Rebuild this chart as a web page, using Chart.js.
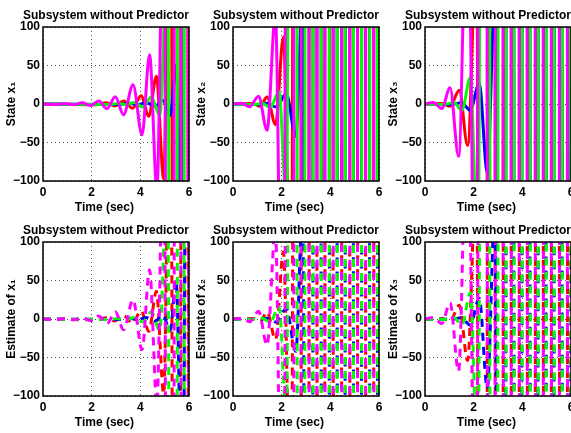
<!DOCTYPE html>
<html><head><meta charset="utf-8">
<script src="https://cdn.jsdelivr.net/npm/chart.js@4"></script>
<style>
html,body{margin:0;padding:0;background:#fff;overflow:hidden;width:571px;height:433px;position:relative;}
canvas{position:absolute;}
</style></head><body>
<script>
// ---- tick labels / text ----
const timeTicks = [0, 2, 4, 6];
const valueTicks = [-100, -50, 0, 50, 100];
const panelTitle = 'Subsystem without Predictor';
const xLabel = 'Time (sec)';
const yLabels = ['State x\u2081', 'State x\u2082', 'State x\u2083', 'Estimate of x\u2081', 'Estimate of x\u2082', 'Estimate of x\u2083'];

// ---- subsystem x1 (time s, value) ----
const x1MagentaT = [0, 0.5, 0.9, 1.25, 1.6, 1.95, 2.29, 2.63, 2.97, 3.31, 3.70, 4.07, 4.38, 4.68, 4.97, 5.25, 5.53, 5.81, 6.09];
const x1MagentaV = [0, -0.8, 0.8, -1, 1.5, -2, 4, -6, 9.5, -14, 25, -40, 64, -110, 300, -3000, 3000, -3000, 3000];
const x1RedT = [0, 2.2, 2.6, 2.95, 3.32, 3.68, 4.03, 4.35, 4.66, 4.96, 5.24, 5.52, 5.80, 6.08];
const x1RedV = [0, -1, 1.5, -2.5, 4, -5.6, 10.8, -16, 36, -97, 400, -3000, 3000, -3000];
const x1GreenT = [0, 2.8, 3.05, 3.4, 3.75, 4.1, 4.45, 4.8, 5.12, 5.38, 5.66, 5.94, 6.22];
const x1GreenV = [0, -0.5, 0.8, -1, 2, -4, 9, -15, 200, -3000, 3000, -3000, 3000];
const x1BlueT = [0, 3.2, 3.55, 3.9, 4.25, 4.6, 4.92, 5.23, 5.47, 5.75, 6.03];
const x1BlueV = [0, -0.5, 1, -1, 2, -3, 5, -15, 50, -300, 3000];

// ---- subsystem x2 ----
const x2MagentaT = [0, 0.35, 0.68, 1.05, 1.40, 1.74, 2.07, 2.36, 2.64, 2.96, 3.29, 3.61, 3.94, 4.29, 4.64, 4.96, 5.28, 5.62, 5.95, 6.28];
const x2MagentaV = [0, 1, -3.7, 10, -34, 115, -500, 3000, -3000, 3000, -3000, 3000, -3000, 3000, -3000, 3000, -3000, 3000, -3000, 3000];
const x2RedT = [0, 0.8, 1.12, 1.40, 1.75, 2.07, 2.40, 2.64, 2.96, 3.29, 3.61, 3.94, 4.29, 4.64, 4.96, 5.28, 5.62, 5.95, 6.28];
const x2RedV = [0, 0.5, -3, 9, -27, 87, -300, 3000, -3000, 3000, -3000, 3000, -3000, 3000, -3000, 3000, -3000, 3000, -3000];
const x2GreenT = [0, 0.9, 1.2, 1.53, 1.89, 2.20, 2.48, 2.79, 3.12, 3.45, 3.80, 4.12, 4.44, 4.78, 5.12, 5.45, 5.78, 6.10, 6.42];
const x2GreenV = [0, -0.5, 1, -4.5, 16, -130, 3000, -3000, 3000, -3000, 3000, -3000, 3000, -3000, 3000, -3000, 3000, -3000, 3000];
const x2BlueT = [0, 1.1, 1.4, 1.78, 2.19, 2.58, 2.87, 3.12, 3.45, 3.80, 4.12, 4.44, 4.78, 5.12, 5.45, 5.78, 6.10, 6.42];
const x2BlueV = [0, -0.5, 1, -4, 13.6, -42, 150, -3000, 3000, -3000, 3000, -3000, 3000, -3000, 3000, -3000, 3000, -3000];

// ---- subsystem x3 ----
const x3MagentaT = [0, 0.34, 0.69, 1.03, 1.38, 1.75, 2.10, 2.40, 2.72, 3.05, 3.38, 3.71, 4.04, 4.37, 4.70, 5.03, 5.36, 5.69, 6.02, 6.35];
const x3MagentaV = [0, 2, -6, 21, -68, 300, -400, 3000, -3000, 3000, -3000, 3000, -3000, 3000, -3000, 3000, -3000, 3000, -3000, 3000];
const x3RedT = [0, 0.7, 1.03, 1.41, 1.75, 2.12, 2.40, 2.72, 3.05, 3.38, 3.71, 4.04, 4.37, 4.70, 5.03, 5.36, 5.69, 6.02, 6.35];
const x3RedV = [0, 0.5, -3, 18, -54, 200, -3000, 3000, -3000, 3000, -3000, 3000, -3000, 3000, -3000, 3000, -3000, 3000, -3000];
const x3GreenT = [0, 0.8, 1.18, 1.52, 1.86, 2.18, 2.50, 2.83, 3.16, 3.49, 3.82, 4.15, 4.48, 4.81, 5.14, 5.47, 5.80, 6.13];
const x3GreenV = [0, -0.5, 2, -8, 34, -200, 3000, -3000, 3000, -3000, 3000, -3000, 3000, -3000, 3000, -3000, 3000, -3000];
const x3BlueT = [0, 1.1, 1.5, 1.86, 2.23, 2.56, 2.88, 3.16, 3.49, 3.82, 4.15, 4.48, 4.81, 5.14, 5.47, 5.80, 6.13];
const x3BlueV = [0, -0.5, 1.5, -8, 27, -90, 150, -3000, 3000, -3000, 3000, -3000, 3000, -3000, 3000, -3000, 3000];

// ---- build ----
const FONT = "'Liberation Sans', Arial, Helvetica, sans-serif";
const COLORS = {magenta: '#ff00ff', green: '#00ff00', blue: '#0000ff', red: '#ff0000'};
function pts(t, v) { return t.map((x, i) => ({x: x, y: v[i]})); }
const subsystems = [
  {magenta: [x1MagentaT, x1MagentaV], green: [x1GreenT, x1GreenV], blue: [x1BlueT, x1BlueV], red: [x1RedT, x1RedV]},
  {magenta: [x2MagentaT, x2MagentaV], green: [x2GreenT, x2GreenV], blue: [x2BlueT, x2BlueV], red: [x2RedT, x2RedV]},
  {magenta: [x3MagentaT, x3MagentaV], green: [x3GreenT, x3GreenV], blue: [x3BlueT, x3BlueV], red: [x3RedT, x3RedV]}
];
const drawOrder = ['magenta', 'green', 'blue', 'red']; // first = on top

const boxPlugin = {
  id: 'box',
  afterDraw(chart) {
    const {ctx, chartArea: a} = chart;
    ctx.save();
    ctx.strokeStyle = '#000';
    ctx.lineWidth = 1.5;
    ctx.strokeRect(a.left, a.top, a.right - a.left, a.bottom - a.top);
    ctx.restore();
  }
};

const colLeft = [0, 190, 382];
const rowTop = [0, 215];
const tickFont = {family: FONT, size: 12, weight: 'bold'};
const NB = '\u00a0\u00a0\u00a0\u00a0\u00a0\u00a0\u00a0';

for (let r = 0; r < 2; r++) {
  for (let c = 0; c < 3; c++) {
    const cv = document.createElement('canvas');
    cv.width = 197; cv.height = 215;
    cv.style.left = colLeft[c] + 'px';
    cv.style.top = rowTop[r] + 'px';
    cv.style.width = '197px'; cv.style.height = '215px';
    document.body.appendChild(cv);
    const sub = subsystems[c];
    const dashed = r === 1;
    new Chart(cv.getContext('2d'), {
      type: 'line',
      data: {
        datasets: drawOrder.map(name => ({
          label: name,
          data: pts(sub[name][0], sub[name][1]),
          borderColor: COLORS[name],
          backgroundColor: COLORS[name],
          borderWidth: 3,
          borderDash: dashed ? [8, 6] : [],
          pointRadius: 0,
          fill: false,
          clip: 0,
          cubicInterpolationMode: 'monotone',
          capBezierPoints: false
        }))
      },
      options: {
        responsive: false,
        animation: false,
        devicePixelRatio: 1,
        events: [],
        layout: {padding: {left: 0, right: 8, top: 0, bottom: 0}},
        plugins: {
          legend: {display: false},
          tooltip: {enabled: false},
          title: {
            display: true, text: panelTitle, align: 'end', fullSize: true,
            color: '#000', font: {family: FONT, size: 12, weight: 'bold'},
            padding: {top: 8, bottom: 4.6}
          }
        },
        scales: {
          x: {
            type: 'linear', min: 0, max: 6,
            afterBuildTicks: s => { s.ticks = timeTicks.map(v => ({value: v})); },
            afterFit: s => { s.height = 34; },
            ticks: {color: '#000', font: tickFont, padding: 4, maxRotation: 0, autoSkip: false},
            grid: {color: '#555', lineWidth: 1, drawTicks: false},
            border: {display: false, dash: [1, 3]},
            title: {display: true, text: xLabel + NB, color: '#000', font: tickFont, padding: {top: 0, bottom: 0}}
          },
          y: {
            type: 'linear', min: -100, max: 100,
            afterBuildTicks: s => { s.ticks = valueTicks.map(v => ({value: v})); },
            afterFit: s => { s.width = 43; },
            ticks: {
              color: '#000', font: tickFont, padding: 3, autoSkip: false,
              callback: v => (v < 0 ? '\u2212' + Math.abs(v) : String(v))
            },
            grid: {color: '#555', lineWidth: 1, drawTicks: false},
            border: {display: false, dash: [1, 3]},
            title: {display: true, text: yLabels[r * 3 + c], color: '#000', font: tickFont, padding: {top: 4.5, bottom: 0}}
          }
        }
      },
      plugins: [boxPlugin]
    });
  }
}
</script>
</body></html>
